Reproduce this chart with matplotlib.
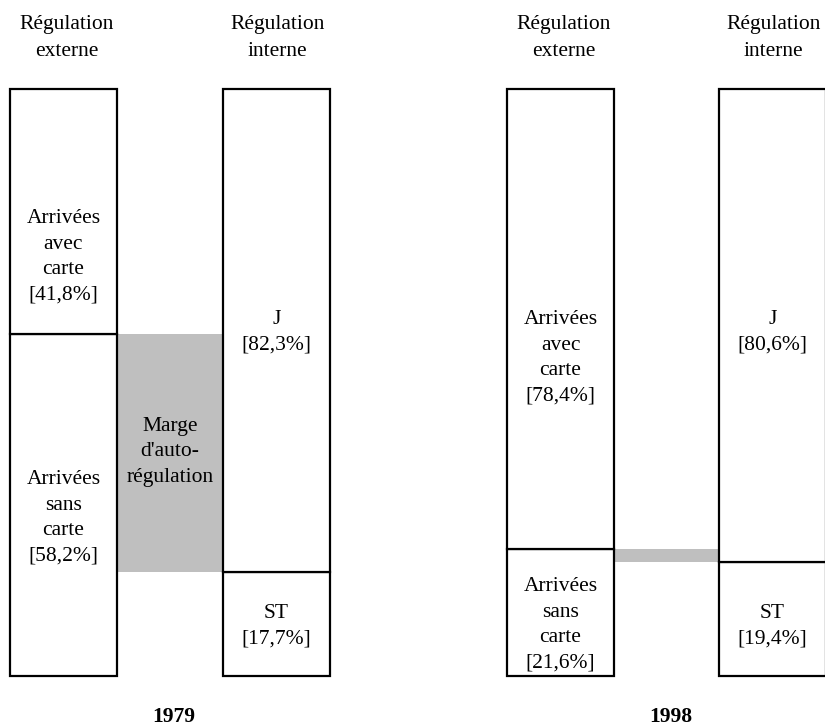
import matplotlib
matplotlib.use('Agg')
import matplotlib.pyplot as plt

# ---- data ----
years = ['1979', '1998']
ext_avec = [41.8, 78.4]     # Arrivées avec carte (%)
ext_sans = [58.2, 21.6]     # Arrivées sans carte (%)
int_J = [82.3, 80.6]        # J (%)
int_ST = [17.7, 19.4]       # ST (%)
header_ext = 'Régulation\nexterne'
header_int = 'Régulation\ninterne'
marge_label = "Marge\nd'auto-\nrégulation"

# ---- layout (pixels) ----
W, H = 825, 726
Y_TOP, Y_BOT = 89, 676
ext_left = [10, 507]
int_left = [223, 719]
bar_w = 107
gray = '#bfbfbf'
FS = 15.5
LS_IN = 1.47
LS_HEAD = 1.58

fig = plt.figure(figsize=(W / 100, H / 100), dpi=100)
ax = fig.add_axes([0, 0, 1, 1])
scale = (Y_BOT - Y_TOP) / 100.0


def py(ypx):
    """pixel row -> percent units of the bar scale"""
    return (Y_BOT - ypx) / scale


ax.set_xlim(0, W)
ax.set_ylim(py(H), py(0))
ax.axis('off')

font = dict(family=['Liberation Serif', 'DejaVu Serif'], fontsize=FS)

for i, yr in enumerate(years):
    # gray self-regulation band between the two bars
    lo = min(ext_sans[i], int_ST[i])
    hi = max(ext_sans[i], int_ST[i])
    ax.bar(ext_left[i] + bar_w, hi - lo, width=int_left[i] - ext_left[i] - bar_w,
           bottom=lo, align='edge', color=gray, linewidth=0, zorder=1)
    # external regulation bar
    ax.bar(ext_left[i], ext_sans[i], width=bar_w, bottom=0, align='edge',
           facecolor='white', edgecolor='black', linewidth=1.6, zorder=2)
    ax.bar(ext_left[i], ext_avec[i], width=bar_w, bottom=ext_sans[i], align='edge',
           facecolor='white', edgecolor='black', linewidth=1.6, zorder=2)
    # internal regulation bar
    ax.bar(int_left[i], int_ST[i], width=bar_w, bottom=0, align='edge',
           facecolor='white', edgecolor='black', linewidth=1.6, zorder=2)
    ax.bar(int_left[i], int_J[i], width=bar_w, bottom=int_ST[i], align='edge',
           facecolor='white', edgecolor='black', linewidth=1.6, zorder=2)

    xe = ext_left[i] + bar_w / 2
    xi = int_left[i] + bar_w / 2
    xm = (ext_left[i] + bar_w + int_left[i]) / 2

    # headers
    ax.text(xe + 3, py(38), header_ext, ha='center', va='center', linespacing=LS_HEAD, **font)
    ax.text(xi + 1, py(38), header_int, ha='center', va='center', linespacing=LS_HEAD, **font)

    fmt = lambda v: f'[{v:.1f}%]'.replace('.', ',')
    ya = [257, 358][i]
    ys = [518, 625][i]
    ax.text(xe, py(ya), 'Arrivées\navec\ncarte\n' + fmt(ext_avec[i]),
            ha='center', va='center', linespacing=LS_IN, zorder=3, **font)
    ax.text(xe, py(ys), 'Arrivées\nsans\ncarte\n' + fmt(ext_sans[i]),
            ha='center', va='center', linespacing=LS_IN, zorder=3, **font)
    ax.text(xi, py(332), 'J\n' + fmt(int_J[i]),
            ha='center', va='center', linespacing=LS_IN, zorder=3, **font)
    ax.text(xi, py(626), 'ST\n' + fmt(int_ST[i]),
            ha='center', va='center', linespacing=LS_IN, zorder=3, **font)
    if i == 0:
        ax.text(xm, py(452), marge_label, ha='center', va='center',
                linespacing=LS_IN, zorder=3, **font)

    ax.text(xm + 4, py(717), yr, ha='center', va='center', fontweight='bold', **font)

fig.savefig('out.png', dpi=100)
